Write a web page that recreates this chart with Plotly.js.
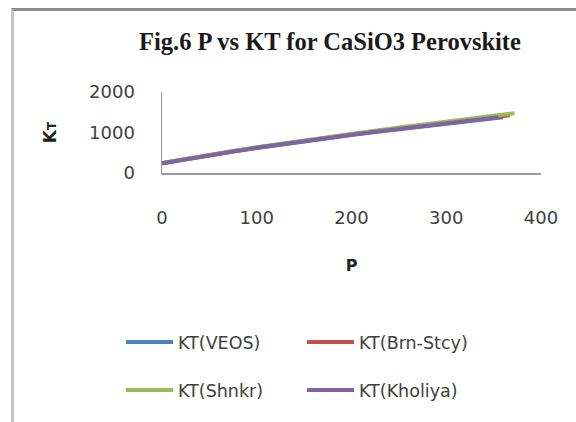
<!DOCTYPE html>
<html><head><meta charset="utf-8">
<script src="https://cdn.plot.ly/plotly-3.0.1.min.js"></script>
<style>
html,body{margin:0;padding:0;background:#fff;}
#wrap{position:relative;width:576px;height:422px;overflow:hidden;}
#chart{width:576px;height:422px;}
#frame{position:absolute;left:11px;top:8px;width:600px;height:500px;border-top:3px solid #8c8c8c;border-left:3px solid #c4c4c4;pointer-events:none;}
</style></head>
<body><div id="wrap"><div id="chart"></div><div id="frame"></div></div>
<script>
const seriesNames = ["KT(VEOS)", "KT(Brn-Stcy)", "KT(Shnkr)", "KT(Kholiya)"];
const colors = ["#4F81BD", "#C0504D", "#9BBB59", "#8064A2"];
const P_veos = [0,25,50,75,100,125,150,175,200,225,250,275,300,325,350,360];
const K_veos = [240,342,438,530,618,702,783,861,937,1011,1083,1153,1221,1288,1353,1378];
const P_brn = [0,25,50,75,100,125,150,175,200,225,250,275,300,325,350,367];
const K_brn = [242,346,445,539,628,714,797,877,955,1031,1105,1177,1247,1316,1383,1425];
const P_shnkr = [0,25,50,75,100,125,150,175,200,225,250,275,300,325,350,372];
const K_shnkr = [245,350,450,545,635,722,806,888,968,1046,1122,1197,1270,1342,1413,1475];
const P_khol = [0,25,50,75,100,125,150,175,200,225,250,275,300,325,350,355];
const K_khol = [240,343,440,533,621,706,788,867,944,1019,1092,1163,1232,1300,1366,1378];
const xTicks = [0,100,200,300,400];
const yTicks = [0,1000,2000];

const Ps = [P_veos, P_brn, P_shnkr, P_khol];
const Ks = [K_veos, K_brn, K_shnkr, K_khol];
const legendIds = ["legend", "legend", "legend2", "legend2"];
const traces = seriesNames.map((n, i) => ({
  x: Ps[i], y: Ks[i], name: n, type: "scatter", mode: "lines",
  line: {color: colors[i], width: 4}, legend: legendIds[i]
}));

const tickFont = {family: "DejaVu Sans, sans-serif", size: 18, color: "#404040"};
const legFont = {family: "DejaVu Sans, sans-serif", size: 17.5, color: "#404040"};
const legCommon = {orientation: "h", xref: "container", x: 121/576, yref: "container", yanchor: "middle", xanchor: "left", font: legFont, itemwidth: 47, entrywidth: 119, entrywidthmode: "pixels", bgcolor: "rgba(0,0,0,0)", borderwidth: 0};
const layout = {
  width: 576, height: 422,
  margin: {l: 162, r: 35, t: 92, b: 249},
  paper_bgcolor: "#fff", plot_bgcolor: "#fff",
  title: {text: "Fig.6 P vs KT for CaSiO3 Perovskite", font: {family: "Liberation Serif, Times New Roman, serif", size: 24.5, color: "#1a1a1a", weight: "bold"}, x: 330/576, xanchor: "center", y: 1 - 41/422, yanchor: "middle"},
  xaxis: {range: [0, 400], tickvals: xTicks, showgrid: false, zeroline: false, showline: true, linecolor: "#9a9a9a", linewidth: 1.5, ticks: "", tickfont: tickFont, ticklabelstandoff: 28,
    title: {text: "<b>P</b>", font: {family: "DejaVu Sans, sans-serif", size: 16, color: "#222"}, standoff: 32}},
  yaxis: {range: [0, 2000], tickvals: yTicks, showgrid: false, zeroline: false, showline: true, linecolor: "#9a9a9a", linewidth: 1.5, ticks: "", tickfont: tickFont, ticklabelstandoff: 22,
    title: {text: "<b>K<span style='font-size:12px'>T</span></b>", font: {family: "DejaVu Sans, sans-serif", size: 17, color: "#222"}, standoff: 28}},
  showlegend: true,
  legend: Object.assign({}, legCommon, {y: 1 - 342/422}),
  legend2: Object.assign({}, legCommon, {y: 1 - 390/422})
};
Plotly.newPlot("chart", traces, layout, {displayModeBar: false, staticPlot: true});
</script></body></html>
